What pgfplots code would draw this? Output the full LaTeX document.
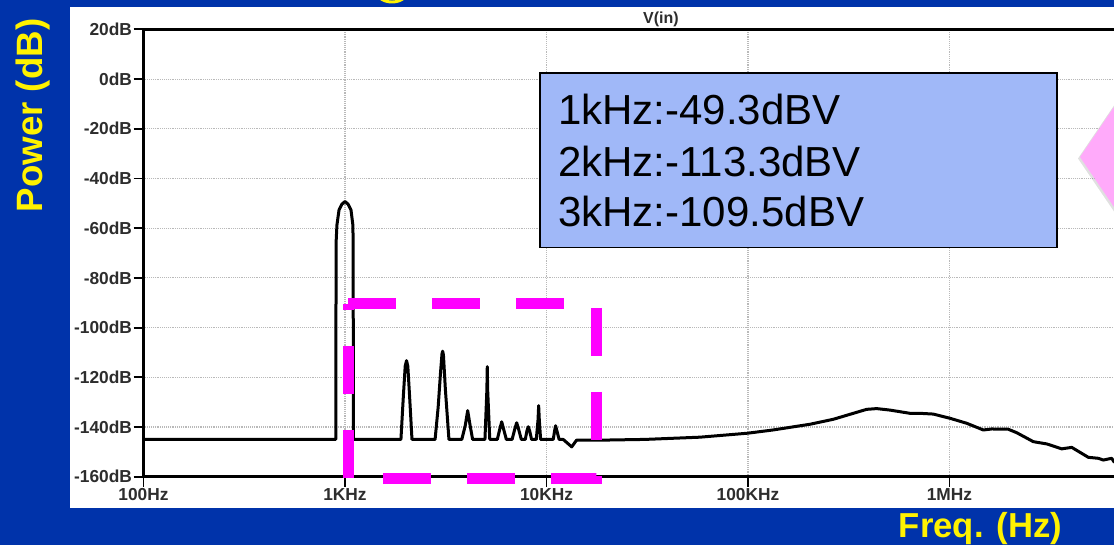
\documentclass[border=0pt]{standalone}
\usepackage{fontspec}
\setmainfont{Liberation Sans}
\usepackage{pgfplots}
\pgfplotsset{compat=1.18}
\definecolor{slidebg}{RGB}{0,51,170}
\definecolor{boxfill}{RGB}{160,184,248}
\definecolor{pinkfill}{RGB}{255,170,250}
\definecolor{gridc}{RGB}{185,185,185}
\definecolor{labc}{RGB}{45,45,45}
\definecolor{mag}{RGB}{255,0,255}
\begin{document}
\begin{tikzpicture}[x=0.75pt,y=0.75pt]
\fill[slidebg] (0,0) rectangle (1114,545);
\clip (0,0) rectangle (1114,545);
\fill[white] (70,36.7) rectangle (1114,537.7);
\begin{scope}[overlay]
\draw[yellow, line width=2.2pt] (392,553) ellipse (15 and 10);
\begin{axis}[
  at={(107.625pt,51.225pt)}, anchor=south west,
  scale only axis, width=755.6pt, height=335.5pt,
  xmode=log, log basis x=10,
  xmin=100, xmax=1e7, ymin=-160, ymax=20,
  axis line style={line width=1.9pt},
  tick align=outside,
  xtick pos=bottom, ytick pos=left,
  major tick length=7.5pt, minor tick length=4pt,
  every tick/.style={black, line width=1.4pt},
  xtick={100,1000,10000,100000,1000000},
  xticklabels={100Hz,1KHz,10KHz,100KHz,1MHz},
  ytick={-160,-140,-120,-100,-80,-60,-40,-20,0,20},
  yticklabels={-160dB,-140dB,-120dB,-100dB,-80dB,-60dB,-40dB,-20dB,0dB,20dB},
  grid=both,
  major grid style={gridc, densely dotted, line width=0.8pt},
  minor grid style={gridc, densely dotted, line width=0.8pt},
  ticklabel style={font=\fontsize{13}{13}\selectfont\bfseries, text=labc},
  yticklabel style={inner sep=1pt},
  xticklabel style={inner sep=1pt},
]
\addplot[black, line width=2.25pt, line join=round] coordinates {
(100,-145)(900,-145)(902,-100)(903,-66)(912,-58.7)(934,-52.7)(966,-50.3)(1000,-49.3)
(1035,-50.3)(1071,-52.7)(1094,-58.7)(1098,-66)(1099,-100)(1100,-145)
(1895,-145)(1950,-127)(1990,-115.5)(2020,-113.3)(2050,-115.5)(2090,-127)(2150,-145)
(2800,-145)(2900,-132)(2980,-118)(3030,-110.5)(3053,-109.5)(3080,-111)(3150,-125)(3280,-145)
(3800,-145)(3950,-139.5)(4064,-133.4)(4180,-139.5)(4300,-145)
(4950,-145)(5060,-125)(5083,-115.7)(5105,-125)(5230,-145)
(5700,-145)(5880,-140.5)(5994,-137.9)(6110,-140.5)(6320,-145)
(6750,-145)(6980,-140.5)(7114,-138.3)(7250,-140.5)(7500,-145)
(7850,-145)(8000,-141.5)(8122,-139.9)(8250,-141.5)(8430,-145)
(8900,-145)(9080,-137)(9144,-131.4)(9210,-137)(9350,-145)
(10800,-145)(11000,-141)(11100,-139.5)(11220,-141)(11550,-145)
(12100,-145)(13340,-148)(14100,-145.3)
(18440,-145.3)(30820,-145)(57780,-144.1)(99660,-142.5)(133100,-141.2)(203100,-138.9)
(265100,-136.9)(333200,-134.5)(388200,-132.9)(435200,-132.6)(506600,-133.2)(636800,-134.5)
(713900,-134.5)(830900,-134.8)(1005900,-136.5)(1217000,-138.5)(1472000,-141.2)(1620000,-140.8)
(1958000,-140.9)(2156000,-142.3)(2606000,-145.9)(3036000,-146.8)(3604000,-148.8)(4042000,-148.2)
(4886000,-152.2)(5477000,-152.6)(5799000,-153.3)(6383000,-152.6)(6552000,-154)(7000000,-154.5)
};
\end{axis}
% annotation box
\draw[fill=boxfill, line width=1.2pt] (540,471.7) rectangle (1057,297.3);
\node[anchor=base west, inner sep=0, font=\fontsize{31.5}{31.5}\selectfont] at (558,420) {1kHz:-49.3dBV};
\node[anchor=base west, inner sep=0, font=\fontsize{31.5}{31.5}\selectfont] at (558,368.3) {2kHz:-113.3dBV};
\node[anchor=base west, inner sep=0, font=\fontsize{31.5}{31.5}\selectfont] at (558,318.3) {3kHz:-109.5dBV};
% magenta dashed rectangle
\draw[mag, line width=8.25pt, dash pattern=on 36pt off 27pt, line join=miter] (348,241) -- (596,241) -- (596,66) -- (348,66) -- cycle;
% pink diamond
\fill[black, opacity=0.12] (1078,386.5) -- (1146,486.5) -- (1214,386.5) -- (1146,286.5) -- cycle;
\fill[pinkfill] (1080,388) -- (1148,488) -- (1216,388) -- (1148,288) -- cycle;
% labels
\node[rotate=90, anchor=base, inner sep=0, text=yellow, font=\fontsize{27.5}{27.5}\selectfont\bfseries] at (42.5,429.5) {Power (dB)};
\node[anchor=base, inner sep=0, text=yellow, font=\fontsize{26}{26}\selectfont\bfseries] at (980.5,7) {Freq. (Hz)};
\node[anchor=base, inner sep=0, text=labc, font=\fontsize{12}{12}\selectfont\bfseries] at (661,521) {V(in)};
\end{scope}
\end{tikzpicture}
\end{document}
